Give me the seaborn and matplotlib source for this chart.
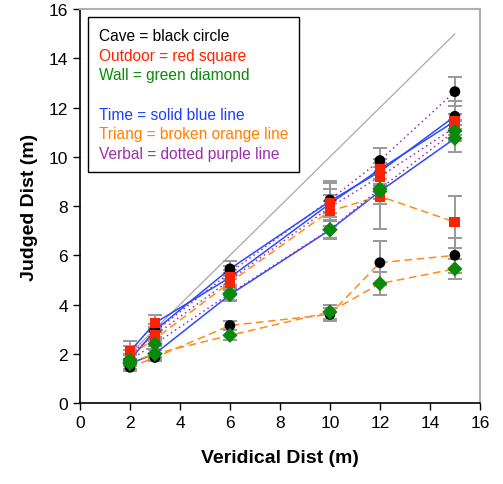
import numpy as np
import pandas as pd
import seaborn as sns
import matplotlib.pyplot as plt
from matplotlib.lines import Line2D

veridical = [2, 3, 6, 10, 12, 15]

# judged distance per environment / method
cave_time = [1.75, 2.95, 5.45, 8.2, 9.4, 11.65]
cave_triang = [1.45, 1.85, 3.15, 3.6, 5.7, 6.0]
cave_verbal = [1.8, 2.9, 5.3, 8.25, 9.85, 12.65]
outdoor_time = [2.1, 3.25, 5.1, 8.1, 9.5, 11.45]
outdoor_triang = [1.95, 2.6, 4.9, 7.8, 8.4, 7.35]
outdoor_verbal = [2.0, 2.75, 5.0, 7.95, 9.2, 11.2]
wall_time = [1.6, 2.0, 4.4, 7.03, 8.6, 10.75]
wall_triang = [1.65, 2.0, 2.75, 3.7, 4.85, 5.45]
wall_verbal = [1.75, 2.4, 4.45, 7.05, 8.7, 11.05]

# error bar half-widths
cave_time_err = [0.2, 0.25, 0.3, 0.5, 0.5, 0.6]
cave_triang_err = [0.15, 0.15, 0.2, 0.25, 0.9, 0.7]
cave_verbal_err = [0.2, 0.2, 0.25, 0.7, 0.5, 0.6]
outdoor_time_err = [0.4, 0.33, 0.3, 0.9, 0.4, 0.3]
outdoor_triang_err = [0.2, 0.3, 0.3, 0.4, 1.35, 1.05]
outdoor_verbal_err = [0.3, 0.25, 0.3, 0.5, 0.4, 0.3]
wall_time_err = [0.2, 0.2, 0.25, 0.35, 0.5, 0.55]
wall_triang_err = [0.15, 0.15, 0.2, 0.3, 0.47, 0.4]
wall_verbal_err = [0.2, 0.2, 0.25, 0.35, 0.4, 0.4]

series = {
    ("Cave", "Time"): (cave_time, cave_time_err),
    ("Cave", "Triang"): (cave_triang, cave_triang_err),
    ("Cave", "Verbal"): (cave_verbal, cave_verbal_err),
    ("Outdoor", "Time"): (outdoor_time, outdoor_time_err),
    ("Outdoor", "Triang"): (outdoor_triang, outdoor_triang_err),
    ("Outdoor", "Verbal"): (outdoor_verbal, outdoor_verbal_err),
    ("Wall", "Time"): (wall_time, wall_time_err),
    ("Wall", "Triang"): (wall_triang, wall_triang_err),
    ("Wall", "Verbal"): (wall_verbal, wall_verbal_err),
}

rows = []
for (env, method), (vals, errs) in series.items():
    for x, y, e in zip(veridical, vals, errs):
        rows.append({"env": env, "method": method, "unit": f"{env}-{method}",
                     "veridical": x, "judged": y, "err": e})
df = pd.DataFrame(rows)

sns.set_theme(style="white")
plt.rcParams["font.family"] = ["Liberation Sans", "DejaVu Sans"]
plt.rcParams["text.color"] = "black"
plt.rcParams["axes.labelcolor"] = "black"
plt.rcParams["xtick.color"] = "black"
plt.rcParams["ytick.color"] = "black"

fig = plt.figure(figsize=(5.03, 4.85), dpi=100)
ax = fig.add_axes([0.159, 0.167, 0.795, 0.812])

# identity line
ax.plot([2, 15], [2, 15], color="#a8a8a8", lw=0.9, zorder=1)

ax.errorbar(df["veridical"], df["judged"], yerr=df["err"], fmt="none",
            ecolor="#999999", elinewidth=1.4, capsize=5, capthick=1.4, zorder=2)

line_colors = {"Time": "#2a4bff", "Triang": "#ff8c1a", "Verbal": "#9b30a8"}
sns.lineplot(data=df, x="veridical", y="judged", units="unit", estimator=None,
             hue="method", style="method", palette=line_colors,
             dashes={"Time": "", "Triang": (5, 3), "Verbal": (1, 2.2)},
             lw=1.1, legend=False, ax=ax, zorder=3)

marker_colors = {"Cave": "black", "Outdoor": "#ff2200", "Wall": "#0a8a0a"}
sns.scatterplot(data=df, x="veridical", y="judged", hue="env", style="env",
                palette=marker_colors,
                markers={"Cave": "o", "Outdoor": "s", "Wall": "D"},
                s=60, linewidth=0, legend=False, ax=ax, zorder=4)

ax.set_xlim(0, 16)
ax.set_ylim(0, 16)
ax.set_xticks(np.arange(0, 17, 2))
ax.set_yticks(np.arange(0, 17, 2))
ax.tick_params(axis="both", labelsize=12.5, length=5, width=1, direction="out",
               bottom=True, left=True, color="black", labelcolor="black")
ax.set_xlabel("Veridical Dist (m)", fontsize=14, fontweight="bold", labelpad=14)
ax.set_ylabel("Judged Dist (m)", fontsize=14, fontweight="bold", labelpad=8)

for side in ["left", "bottom"]:
    ax.spines[side].set_color("black")
    ax.spines[side].set_linewidth(1.2)
for side in ["top", "right"]:
    ax.spines[side].set_color("#b0b0b0")
    ax.spines[side].set_linewidth(1.5)

labels = ["Cave = black circle", "Outdoor = red square", "Wall = green diamond", "",
          "Time = solid blue line", "Triang = broken orange line",
          "Verbal = dotted purple line"]
text_colors = ["black", "#ff2200", "#0a8a0a", "black", "#1f3fff", "#ff8000", "#9b30a8"]
handles = [Line2D([], [], linestyle="none") for _ in labels]
leg = ax.legend(handles, labels, loc="upper left", bbox_to_anchor=(0.02, 0.98),
                borderaxespad=0, handlelength=0, handletextpad=0, fontsize=11.2,
                fancybox=False, edgecolor="black", framealpha=1, borderpad=0.7,
                labelspacing=0.3)
leg.get_frame().set_linewidth(1.0)
for t, c in zip(leg.get_texts(), text_colors):
    t.set_color(c)

fig.savefig("out.png", dpi=100)
